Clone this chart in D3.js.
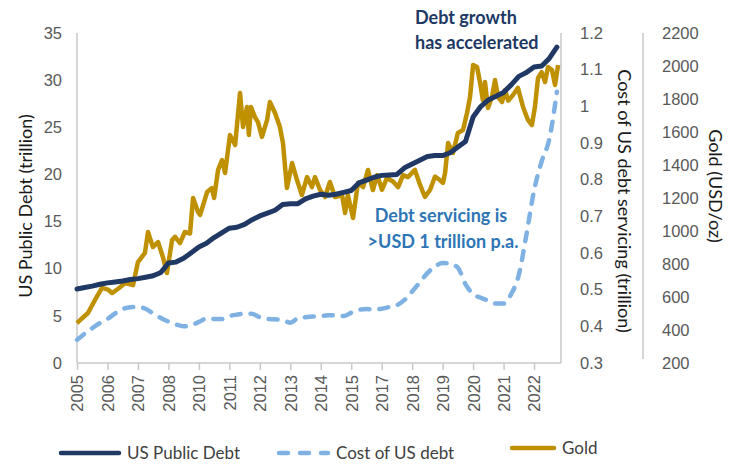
<!DOCTYPE html>
<html>
<head>
<meta charset="utf-8">
<script src="https://cdn.jsdelivr.net/npm/d3@7"></script>
<style>
  body { margin: 0; background: #fff; }
  svg { display: block; font-family: Lato, "Open Sans", sans-serif; }
</style>
</head>
<body>
<div id="chart"></div>
<script>
// x positions are in "label slots": 0 = 2005 label, 15 = 2022 label
const yearLabels = ["2005", "2006", "2007", "2008", "2010", "2011", "2012", "2013",
    "2014", "2015", "2017", "2018", "2019", "2020", "2021", "2022"];

// debt and cost are read every quarter slot
const seriesStep = 0.25;

const debtValues = [7.85, 8.0, 8.15, 8.35, 8.5, 8.6, 8.7, 8.85, 8.95, 9.1, 9.25, 9.6,
    10.6, 10.7, 11.1, 11.7, 12.3, 12.7, 13.3, 13.8, 14.3, 14.4, 14.7, 15.2,
    15.6, 15.9, 16.2, 16.8, 16.9, 16.9, 17.4, 17.7, 17.9, 17.8, 17.9, 18.1,
    18.3, 19.1, 19.4, 19.7, 19.9, 19.95, 20.0, 20.7, 21.1, 21.5, 21.9, 22.0,
    22.0, 22.3, 22.9, 23.5, 26.1, 27.2, 27.9, 28.3, 28.7, 29.5, 30.4, 30.8,
    31.4, 31.5, 32.3, 33.5];

const costValues = [0.363, 0.38, 0.395, 0.409, 0.42, 0.435, 0.447, 0.452, 0.453, 0.448,
    0.435, 0.423, 0.413, 0.405, 0.40, 0.403, 0.412, 0.421, 0.42, 0.42,
    0.428, 0.432, 0.435, 0.434, 0.425, 0.42, 0.419, 0.417, 0.41, 0.422,
    0.425, 0.427, 0.428, 0.43, 0.43, 0.428, 0.437, 0.445, 0.447, 0.446,
    0.448, 0.453, 0.458, 0.472, 0.495, 0.52, 0.545, 0.563, 0.573, 0.57,
    0.56, 0.515, 0.488, 0.478, 0.47, 0.462, 0.462, 0.488, 0.54, 0.65,
    0.77, 0.85, 0.91, 1.04];

// gold is read at irregular slot positions
const goldPos = [0, 0.16, 0.36, 0.59, 0.82, 1.02, 1.15, 1.35, 1.58, 1.84,
    2.00, 2.23, 2.33, 2.49, 2.66, 2.82, 2.95, 3.12, 3.22, 3.38,
    3.54, 3.71, 3.81, 3.97, 4.04, 4.27, 4.43, 4.50, 4.63, 4.76,
    4.86, 5.02, 5.19, 5.35, 5.45, 5.58, 5.64, 5.71, 5.84, 5.94,
    6.07, 6.24, 6.33, 6.50, 6.66, 6.76, 6.89, 7.06, 7.22, 7.38,
    7.55, 7.71, 7.81, 7.98, 8.14, 8.30, 8.47, 8.70, 8.80, 8.89,
    9.06, 9.22, 9.39, 9.55, 9.71, 9.85, 10.01, 10.17, 10.37, 10.54,
    10.70, 10.86, 11.09, 11.26, 11.42, 11.59, 11.75, 11.91, 12.01, 12.08,
    12.18, 12.34, 12.50, 12.67, 12.80, 12.90, 13.00, 13.13, 13.23, 13.32,
    13.39, 13.49, 13.62, 13.72, 13.82, 13.95, 14.05, 14.15, 14.31, 14.47,
    14.64, 14.80, 14.93, 15.03, 15.13, 15.25, 15.36, 15.46, 15.59, 15.69, 15.79];
const goldValues = [442, 470, 503, 582, 655, 645, 624, 650, 685, 672,
    812, 867, 994, 903, 933, 842, 745, 945, 964, 927,
    994, 985, 1200, 1115, 1097, 1236, 1260, 1200, 1370, 1430,
    1351, 1582, 1521, 1836, 1630, 1752, 1582, 1752, 1690, 1660,
    1570, 1673, 1782, 1715, 1630, 1533, 1260, 1412, 1309, 1218,
    1327, 1266, 1327, 1248, 1206, 1297, 1206, 1218, 1109, 1218,
    1079, 1291, 1266, 1370, 1248, 1339, 1250, 1321, 1300, 1266,
    1339, 1327, 1370, 1279, 1206, 1250, 1330, 1309, 1291, 1351,
    1533, 1473, 1594, 1612, 1715, 1812, 2006, 1994, 1897, 1794,
    1903, 1745, 1812, 1915, 1812, 1782, 1854, 1790, 1824, 1867,
    1752, 1673, 1642, 1752, 1927, 1963, 1903, 1994, 1976, 1885, 2006];

const debtTicks = [0, 5, 10, 15, 20, 25, 30, 35];
const costTicks = [0.3, 0.4, 0.5, 0.6, 0.7, 0.8, 0.9, 1.0, 1.1, 1.2];
const goldTicks = [200, 400, 600, 800, 1000, 1200, 1400, 1600, 1800, 2000, 2200];

const colors = { debt: "#203864", cost: "#7fb2e3", gold: "#bf9000" };

const width = 738, height = 464;
const plot = { left: 77, right: 561, top: 33, bottom: 363 };
const goldAxisX = 643;

const svg = d3.select("#chart").append("svg")
    .attr("width", width)
    .attr("height", height);

const x = d3.scaleLinear().domain([0, 15.885]).range([plot.left, plot.right]);
const yDebt = d3.scaleLinear().domain([0, 35]).range([plot.bottom, plot.top]);
const yCost = d3.scaleLinear().domain([0.3, 1.2]).range([plot.bottom, plot.top]);
const yGold = d3.scaleLinear().domain([200, 2200]).range([plot.bottom, plot.top]);

function styleAxis(g) {
    g.select(".domain").attr("stroke", "#c9c9c9").attr("stroke-width", 1.5);
    g.selectAll(".tick line").attr("stroke", "#c9c9c9").attr("stroke-width", 1.5);
    g.selectAll("text").attr("fill", "#595959").attr("font-size", 16.5);
}

// left axis
svg.append("g")
    .attr("transform", `translate(${plot.left},0)`)
    .call(d3.axisLeft(yDebt).tickValues(debtTicks).tickSize(0).tickPadding(15))
    .call(styleAxis)
    .call(g => g.select(".domain").attr("d", `M0,${plot.bottom}V${plot.top}`));

// cost axis (right of plot)
svg.append("g")
    .attr("transform", `translate(${plot.right},0)`)
    .call(d3.axisRight(yCost).tickValues(costTicks).tickSize(0).tickPadding(19)
        .tickFormat(d => String(+d.toFixed(1))))
    .call(styleAxis)
    .call(g => g.select(".domain").attr("d", `M0,${plot.bottom}V${plot.top}`));

// gold axis
svg.append("g")
    .attr("transform", `translate(${goldAxisX},0)`)
    .call(d3.axisRight(yGold).tickValues(goldTicks).tickSize(0).tickPadding(19)
        .tickFormat(d3.format("d")))
    .call(styleAxis)
    .call(g => g.select(".domain").attr("d", `M0,${plot.bottom - 4}V${plot.top}`));

// x axis
svg.append("g")
    .attr("transform", `translate(0,${plot.bottom})`)
    .call(d3.axisBottom(x).tickValues(d3.range(yearLabels.length))
        .tickFormat(i => yearLabels[i]).tickSize(7).tickSizeOuter(0))
    .call(styleAxis)
    .call(g => g.select(".domain").attr("d", `M${plot.left},0H${plot.right}`))
    .call(g => g.selectAll("text")
        .attr("transform", "rotate(-90)")
        .attr("text-anchor", "end")
        .attr("x", -12)
        .attr("y", 0)
        .attr("dy", "0.36em"));

// lines
const debtLine = d3.line()
    .x((d, i) => x(i * seriesStep))
    .y(d => yDebt(d));
const costLine = d3.line()
    .x((d, i) => x(i * seriesStep))
    .y(d => yCost(d))
    .curve(d3.curveMonotoneX);
const goldLine = d3.line()
    .x((d, i) => x(goldPos[i]))
    .y(d => yGold(d));

svg.append("path")
    .datum(costValues)
    .attr("d", costLine)
    .attr("fill", "none")
    .attr("stroke", colors.cost)
    .attr("stroke-width", 4.5)
    .attr("stroke-linecap", "round")
    .attr("stroke-dasharray", "9,10");

svg.append("path")
    .datum(goldValues)
    .attr("d", goldLine)
    .attr("fill", "none")
    .attr("stroke", colors.gold)
    .attr("stroke-width", 4.5)
    .attr("stroke-linejoin", "round");

svg.append("path")
    .datum(debtValues)
    .attr("d", debtLine)
    .attr("fill", "none")
    .attr("stroke", colors.debt)
    .attr("stroke-width", 5)
    .attr("stroke-linejoin", "round")
    .attr("stroke-linecap", "round");

// axis titles
svg.append("text")
    .attr("transform", `translate(32,${(plot.top + plot.bottom) / 2 + 8}) rotate(-90)`)
    .attr("text-anchor", "middle")
    .attr("font-size", 18)
    .attr("fill", "#1a1a1a")
    .text("US Public Debt (trillion)");

svg.append("text")
    .attr("transform", `translate(618,${(plot.top + plot.bottom) / 2 + 3}) rotate(90)`)
    .attr("text-anchor", "middle")
    .attr("font-size", 18)
    .attr("fill", "#1a1a1a")
    .text("Cost of US debt servicing (trillion)");

svg.append("text")
    .attr("transform", `translate(709,186) rotate(90)`)
    .attr("text-anchor", "middle")
    .attr("font-size", 18)
    .attr("fill", "#1a1a1a")
    .text("Gold (USD/oz)");

// annotations
const note1 = svg.append("text")
    .attr("font-size", 18)
    .attr("font-weight", "bold")
    .attr("fill", colors.debt);
note1.append("tspan").attr("x", 415).attr("y", 24).text("Debt growth");
note1.append("tspan").attr("x", 415).attr("y", 49).text("has accelerated");

const note2 = svg.append("text")
    .attr("text-anchor", "middle")
    .attr("font-size", 18)
    .attr("font-weight", "bold")
    .attr("fill", "#2e75b6");
note2.append("tspan").attr("x", 441).attr("y", 222).text("Debt servicing is");
note2.append("tspan").attr("x", 443).attr("y", 248).text(">USD 1 trillion p.a.");

// legend
const legendItems = [
    { label: "US Public Debt", color: colors.debt, x1: 61, x2: 119, y: 453, dash: null },
    { label: "Cost of US debt", color: colors.cost, x1: 279, x2: 328, y: 453, dash: "9,12" },
    { label: "Gold", color: colors.gold, x1: 512, x2: 554, y: 448, dash: null }
];

const legend = svg.append("g");
legendItems.forEach(d => {
    legend.append("line")
        .attr("x1", d.x1).attr("x2", d.x2)
        .attr("y1", d.y).attr("y2", d.y)
        .attr("stroke", d.color)
        .attr("stroke-width", 4.5)
        .attr("stroke-linecap", "round")
        .attr("stroke-dasharray", d.dash);
    legend.append("text")
        .attr("x", d.x2 + 8)
        .attr("y", d.y)
        .attr("dy", "0.36em")
        .attr("font-size", 17)
        .attr("fill", "#404040")
        .text(d.label);
});
</script>
</body>
</html>
